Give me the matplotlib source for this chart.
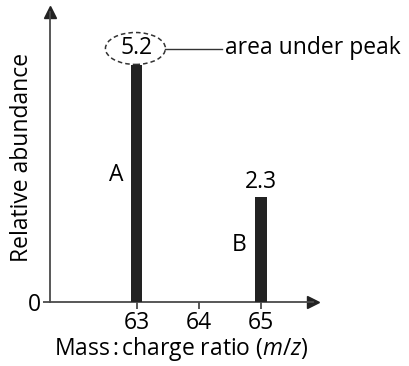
import matplotlib
matplotlib.use("Agg")
import matplotlib.pyplot as plt
from matplotlib.patches import Ellipse

plt.rcParams['font.family'] = ['Open Sans', 'DejaVu Sans']
plt.rcParams['mathtext.fontset'] = 'custom'
plt.rcParams['mathtext.rm'] = 'Open Sans'
plt.rcParams['mathtext.it'] = 'Open Sans:italic'

# data
mz = [63, 65]
abundance = [5.2, 2.3]
peak_names = ["A", "B"]
value_labels = ["5.2", "2.3"]
xticks = [63, 64, 65]
yticks = [0]

W, H = 409, 366
fig = plt.figure(figsize=(W / 100, H / 100), dpi=100)
ax = fig.add_axes([50 / W, 64 / H, (313 - 50) / W, (302 - 12) / H])

axcol = '#4a4a4a'
barcol = '#222222'
fs = 16.5

ax.bar(mz, abundance, width=0.185, color=barcol, zorder=3)
ax.set_xlim(61.606, 65.836)
ax.set_ylim(0, 6.36)

for s in ['top', 'right']:
    ax.spines[s].set_visible(False)
for s in ['left', 'bottom']:
    ax.spines[s].set_color(axcol)
    ax.spines[s].set_linewidth(1.3)

ax.set_xticks(xticks)
ax.set_xticklabels([str(t) for t in xticks], fontsize=fs)
ax.set_yticks(yticks)
ax.set_yticklabels([str(t) for t in yticks], fontsize=fs)
ax.tick_params(axis='both', direction='out', length=5, width=1.3, color=axcol, pad=1.5)

# arrow heads
ax.plot(1, 0, '>', color='#222222', markersize=8, transform=ax.transAxes, clip_on=False)
ax.plot(0, 1, '^', color='#222222', markersize=8, transform=ax.transAxes, clip_on=False)

ax.set_xlabel(r"Mass$\,$:$\,$charge ratio ($m/z$)", fontsize=fs, labelpad=0)
ax.set_ylabel("Relative abundance", fontsize=fs)
ax.yaxis.set_label_coords(-0.062, 0.5)

# value labels
ax.text(mz[0], abundance[0] + 0.36, value_labels[0], fontsize=fs, ha='center', va='center')
ax.text(mz[1], abundance[1] + 0.33, value_labels[1], fontsize=fs, ha='center', va='center')

# peak names
ax.text(mz[0] - 0.33, 2.79, peak_names[0], fontsize=fs, ha='center', va='center')
ax.text(mz[1] - 0.35, 1.25, peak_names[1], fontsize=fs, ha='center', va='center')

# dashed ellipse + callout
ey = abundance[0] + 0.36
ell = Ellipse((mz[0] - 0.02, ey), width=0.965, height=0.70, fill=False,
              edgecolor='#333333', linestyle=(0, (3, 2)), linewidth=1.1, clip_on=False)
ax.add_patch(ell)
ax.plot([mz[0] + 0.46, 64.37], [ey - 0.02, ey - 0.02], color='#333333', lw=1.0, clip_on=False)
ax.text(64.42, ey, "area under peak", fontsize=fs, ha='left', va='center')

fig.savefig("out.png", dpi=100)
